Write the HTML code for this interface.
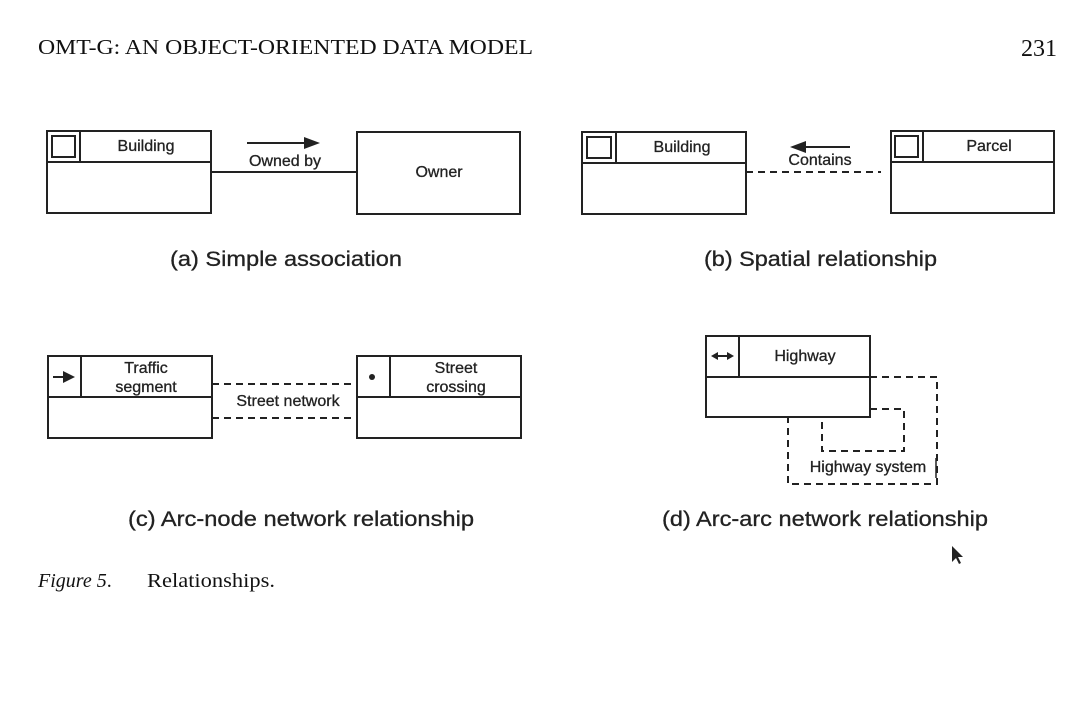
<!DOCTYPE html>
<html><head><meta charset="utf-8"><style>
html,body{margin:0;padding:0;background:#fff;}
svg{display:block;}
.s{font-family:"Liberation Sans",sans-serif;fill:#222;}
.r{font-family:"Liberation Serif",serif;fill:#111;}
</style></head><body>
<svg width="1085" height="723" viewBox="0 0 1085 723" xmlns="http://www.w3.org/2000/svg">
<text class="r" x="38" y="54" font-size="21" textLength="495" lengthAdjust="spacingAndGlyphs">OMT-G: AN OBJECT-ORIENTED DATA MODEL</text>
<text class="r" x="1057" y="56" font-size="24" text-anchor="end">231</text>

<g fill="none" stroke="#222" stroke-width="2">
<rect x="47" y="131" width="164" height="82"/><line x1="47" y1="162" x2="211" y2="162"/><line x1="80" y1="131" x2="80" y2="162"/>
<rect x="52" y="136" width="23" height="21"/>
<rect x="357" y="132" width="163" height="82"/>
<line x1="211" y1="172" x2="357" y2="172"/>
<line x1="247" y1="143" x2="306" y2="143"/>
<rect x="582" y="132" width="164" height="82"/><line x1="582" y1="163" x2="746" y2="163"/><line x1="616" y1="132" x2="616" y2="163"/>
<rect x="587" y="137" width="24" height="21"/>
<rect x="891" y="131" width="163" height="82"/><line x1="891" y1="162" x2="1054" y2="162"/><line x1="923" y1="131" x2="923" y2="162"/>
<rect x="895" y="136" width="23" height="21"/>
<line x1="746" y1="172" x2="881" y2="172" stroke-dasharray="7,5"/>
<line x1="802" y1="147" x2="850" y2="147"/>
<rect x="48" y="356" width="164" height="82"/><line x1="48" y1="397" x2="212" y2="397"/><line x1="81" y1="356" x2="81" y2="397"/>
<line x1="53" y1="377" x2="65" y2="377"/>
<rect x="357" y="356" width="164" height="82"/><line x1="357" y1="397" x2="521" y2="397"/><line x1="390" y1="356" x2="390" y2="397"/>
<line x1="212" y1="384" x2="357" y2="384" stroke-dasharray="7,5"/>
<line x1="212" y1="418" x2="357" y2="418" stroke-dasharray="7,5"/>
<rect x="706" y="336" width="164" height="81"/><line x1="706" y1="377" x2="870" y2="377"/><line x1="739" y1="336" x2="739" y2="377"/>
<polyline points="870,377 937,377 937,484 788,484 788,417" stroke-dasharray="7,5"/>
<polyline points="870,409 904,409 904,451 822,451 822,417" stroke-dasharray="7,5"/>
<line x1="716" y1="356" x2="729" y2="356"/>
</g>
<g fill="#222">
<polygon points="320,143 304,137 304,149"/>
<polygon points="790,147 806,141 806,153"/>
<polygon points="75,377 63,371 63,383"/>
<circle cx="372" cy="377" r="3"/>
<polygon points="711,356 718,352 718,360"/>
<polygon points="734,356 727,352 727,360"/>
</g>
<g class="s" font-size="16" text-anchor="middle" stroke="#222" stroke-width="0.3">
<text x="146" y="151">Building</text>
<text x="285" y="166">Owned by</text>
<text x="439" y="177">Owner</text>
<text x="682" y="152">Building</text>
<text x="820" y="165">Contains</text>
<text x="989" y="151">Parcel</text>
<text x="146" y="373">Traffic</text>
<text x="146" y="392">segment</text>
<text x="456" y="373">Street</text>
<text x="456" y="392">crossing</text>
<text x="288" y="406">Street network</text>
<text x="805" y="361">Highway</text>
<text x="868" y="472">Highway system</text>
</g>
<g class="s" font-size="21" stroke="#222" stroke-width="0.3">
<text x="170" y="266" textLength="232" lengthAdjust="spacingAndGlyphs">(a) Simple association</text>
<text x="704" y="266" textLength="233" lengthAdjust="spacingAndGlyphs">(b) Spatial relationship</text>
<text x="128" y="526" textLength="346" lengthAdjust="spacingAndGlyphs">(c) Arc-node network relationship</text>
<text x="662" y="526" textLength="326" lengthAdjust="spacingAndGlyphs">(d) Arc-arc network relationship</text>
</g>
<line x1="936" y1="458" x2="936" y2="478" stroke="#222" stroke-width="1.5"/>
<polygon points="952,546 952,562 956,558 959,564 961,563 958,557 963,557" fill="#222"/>
<text class="r" x="38" y="587" font-size="20"><tspan font-style="italic">Figure 5</tspan>.<tspan x="147" textLength="128" lengthAdjust="spacingAndGlyphs">Relationships.</tspan></text>
</svg>
</body></html>
